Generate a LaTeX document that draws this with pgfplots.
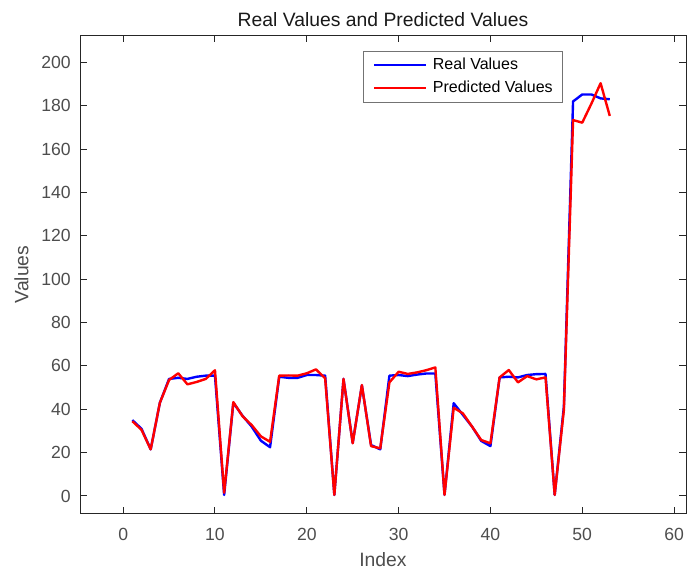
\documentclass[border=0pt]{standalone}
\usepackage{fontspec}
\setmainfont{Liberation Sans}
\usepackage{pgfplots}
\pgfplotsset{compat=1.18}

\definecolor{axcol}{RGB}{38,38,38}
\definecolor{lblcol}{RGB}{77,77,77}

\pgfplotstableread{
x real pred
1 35 34.5
2 31 30.5
3 21.5 21.5
4 43 43
5 54 53.5
6 54.5 56.6
7 54 51.5
8 55 52.6
9 55.5 54
10 55.5 58
11 0.5 1.5
12 43 43.3
13 37 36.8
14 32 32.7
15 25.5 27.5
16 22.5 25
17 55 55.5
18 54.5 55.6
19 54.5 55.5
20 55.8 56.6
21 55.8 58.4
22 55.5 54.3
23 0.5 0.5
24 54 54
25 24.5 24.3
26 51 51.2
27 23.5 23
28 21.5 22
29 55.5 52.4
30 55.8 57.3
31 55.3 56.3
32 56 57
33 56.5 58
34 56.5 59.3
35 0.5 0.5
36 42.8 40.7
37 37.4 38.1
38 32 32
39 25.4 25.8
40 23 24.3
41 54.7 54.7
42 55 58.1
43 54.7 52.4
44 55.8 55.3
45 56.2 53.8
46 56.3 54.7
47 0.5 0.5
48 41.2 39.7
49 182 173.4
50 185.2 172.2
51 185.2 181
52 183.4 190.4
53 183 175.3
}\datatable

\begin{document}
\begin{tikzpicture}
\useasboundingbox (0,0) rectangle (516pt,430.5pt);
\begin{axis}[
    at={(60pt,45.5pt)}, anchor=south west,
    scale only axis,
    width=454.5pt, height=358.2pt,
    xmin=-4.7, xmax=61.3,
    ymin=-8, ymax=212.3,
    xtick={0,10,...,60},
    ytick={0,20,...,200},
    tick align=inside,
    tick pos=both,
    major tick length=5pt,
    axis line style={axcol, line width=0.75pt},
    every tick/.style={axcol, line width=0.75pt},
    /pgf/number format/assume math mode=true,
    tick label style={font=\fontsize{13.2}{15}\selectfont, text=lblcol},
    xticklabel style={anchor=base, inner sep=0pt, yshift=-20pt},
    yticklabel style={anchor=east, inner sep=0pt, xshift=-6.75pt},
    title={Real Values and Predicted Values},
    title style={at={(axis description cs:0.5,1)}, anchor=base, yshift=1pt,
        font=\fontsize{14.5}{17}\selectfont, text=black!90},
    xlabel={Index},
    xlabel style={at={(axis description cs:0.5,0)}, anchor=base, yshift=-40pt,
        font=\fontsize{14.5}{17}\selectfont, text=lblcol},
    ylabel={Values},
    ylabel style={at={([xshift=-38.8pt]axis description cs:0,0.5)}, anchor=base,
        font=\fontsize{14.5}{17}\selectfont, text=lblcol},
    legend style={at={(axis description cs:0.796,0.969)}, anchor=north east,
        draw=black!55, line width=0.5pt, fill=white,
        inner xsep=7pt, inner ysep=4.9pt, row sep=5.75pt,
        font=\fontsize{12}{14}\selectfont,
        nodes={inner sep=0pt, text height=9pt, text depth=2.5pt, text=black},
        /tikz/column 1/.style={column sep=4.3pt}},
    legend cell align=left,
    legend image code/.code={\draw[#1] (0pt,0pt) -- (39pt,0pt);},
]
\addplot[color={rgb,255:red,0;green,0;blue,255}, line width=1.8pt, line join=round] table[x=x, y=real] {\datatable};
\addlegendentry{Real Values}
\addplot[color={rgb,255:red,255;green,0;blue,0}, line width=1.8pt, line join=round] table[x=x, y=pred] {\datatable};
\addlegendentry{Predicted Values}
\end{axis}
\end{tikzpicture}
\end{document}
